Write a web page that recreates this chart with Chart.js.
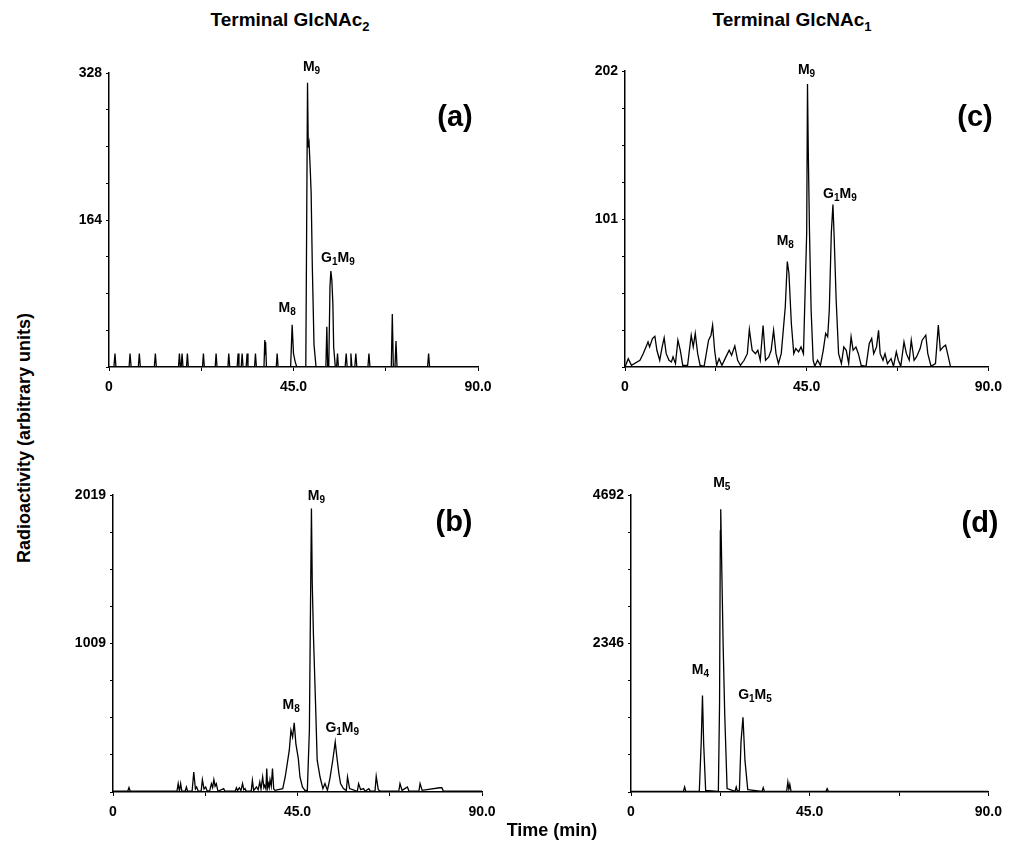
<!DOCTYPE html>
<html>
<head>
<script src="https://cdn.jsdelivr.net/npm/chart.js@4.4.1/dist/chart.umd.min.js"></script>
<style>
    body { margin: 0; background: #fff; font-family: "Liberation Sans", Arial, sans-serif; }
    #page { position: relative; width: 1010px; height: 842px; overflow: hidden; }
    canvas { position: absolute; }
    .txt { position: absolute; font-weight: bold; color: #000; white-space: nowrap; }
    .title { font-size: 19px; transform: translate(-50%, -50%); }
    .title sub { font-size: 13px; vertical-align: -5px; }
    .letter { font-size: 29px; transform: translate(-50%, -50%); }
    .ylab { font-size: 18px; transform: translate(-50%, -50%) rotate(-90deg); }
    .xlab { font-size: 18px; transform: translate(-50%, -50%); }
</style>
</head>
<body>
<div id="page">
    <canvas id="chartA" width="480" height="370" style="left:40px; top:40px;"></canvas>
    <canvas id="chartC" width="455" height="370" style="left:555px; top:40px;"></canvas>
    <canvas id="chartB" width="480" height="370" style="left:40px; top:455px;"></canvas>
    <canvas id="chartD" width="455" height="370" style="left:555px; top:455px;"></canvas>

    <div class="txt title" style="left:290px; top:21px;">Terminal GlcNAc<sub>2</sub></div>
    <div class="txt title" style="left:792px; top:21px;">Terminal GlcNAc<sub>1</sub></div>
    <div class="txt letter" style="left:455px; top:116px;">(a)</div>
    <div class="txt letter" style="left:975px; top:116px;">(c)</div>
    <div class="txt letter" style="left:454px; top:521px;">(b)</div>
    <div class="txt letter" style="left:980px; top:522px;">(d)</div>
    <div class="txt ylab" style="left:24px; top:438px;">Radioactivity (arbitrary units)</div>
    <div class="txt xlab" style="left:552px; top:830px;">Time (min)</div>
</div>

<script>
    // x ticks shared by all panels (minutes)
    const xTicks = [0, 22.5, 45, 67.5, 90];
    const xTickLabels = ['0', '', '45.0', '', '90.0'];

    // (a) terminal GlcNAc2, [time, counts]
    const traceA = [
        [0, 0], [1.2, 0], [1.46, 15], [1.7, 0], [4.9, 0], [5.13, 15], [5.4, 0], [7.15, 0], [7.4, 15], [7.65, 0],
        [11.05, 0], [11.31, 15], [11.55, 0], [16.95, 0], [17.17, 15], [17.4, 0], [17.6, 0], [17.82, 15], [18.05, 0],
        [18.9, 0], [19.12, 15], [19.35, 0], [22.8, 0], [23.03, 15], [23.25, 0], [25.9, 0], [26.12, 15], [26.35, 0],
        [29.0, 0], [29.21, 15], [29.45, 0], [31.25, 0], [31.49, 15], [31.7, 0], [32.25, 0], [32.47, 15], [32.7, 0],
        [33.45, 0], [33.69, 15], [33.9, 0], [35.5, 0], [35.72, 15], [35.95, 0], [37.8, 0], [38.0, 30], [38.1, 14],
        [38.2, 28], [38.4, 0], [40.8, 0], [41.01, 15], [41.25, 0], [44.3, 0], [44.67, 47], [45.0, 15], [45.4, 6],
        [45.8, 0], [48.0, 0], [48.2, 150], [48.42, 317], [48.6, 245], [48.8, 250], [49.07, 222], [49.3, 195],
        [49.6, 110], [50.0, 25], [50.5, 0], [52.9, 0], [53.13, 45], [53.35, 0], [53.6, 0], [53.9, 90], [54.11, 107],
        [54.35, 97], [54.6, 71], [54.8, 22], [55.2, 0], [55.5, 0], [55.74, 15], [55.95, 0], [57.6, 0], [57.85, 15],
        [58.1, 0], [58.8, 0], [59.0, 15], [59.25, 0], [59.95, 0], [60.2, 15], [60.45, 0], [63.15, 0], [63.4, 15],
        [63.65, 0], [68.85, 0], [69.1, 59], [69.35, 0], [69.75, 0], [70.0, 29], [70.25, 0], [77.7, 0], [77.95, 15],
        [78.2, 0], [90, 0]
    ];
    const yMaxA = 328;
    const yTickLabelsA = ['164', '328'];
    const peakNamesA = ['M_9', 'M_8', 'G_1M_9'];
    const peakTimesA = [48.42, 44.67, 54.11];
    const peakHeightsA = [317, 47, 107];

    // (b) terminal GlcNAc2
    const traceB = [
        [0, 5], [3.6, 5], [3.9, 30], [4.2, 5], [15.6, 5], [15.9, 57], [16.2, 5], [16.5, 57], [16.8, 5], [17.6, 5],
        [17.9, 34], [18.2, 5], [19.3, 8], [19.7, 136], [20.1, 20], [20.4, 34], [20.8, 5], [21.5, 5], [21.8, 84],
        [22.2, 20], [22.6, 34], [23.0, 5], [23.6, 10], [24.0, 57], [24.3, 30], [24.6, 84], [24.9, 40], [25.2, 57],
        [25.6, 5], [27.0, 23], [27.3, 5], [29.8, 5], [30.1, 29], [30.4, 10], [30.8, 29], [31.2, 10], [31.6, 57],
        [31.9, 15], [32.2, 23], [32.5, 5], [33.7, 5], [34.0, 79], [34.3, 10], [35.0, 34], [35.4, 15], [35.8, 68],
        [36.1, 20], [36.5, 102], [36.8, 30], [37.0, 45], [37.3, 20], [37.5, 159], [37.7, 30], [37.9, 57], [38.1, 30],
        [38.3, 84], [38.6, 40], [38.9, 159], [39.2, 20], [39.5, 11], [41.4, 23], [42.0, 102], [42.5, 193], [43.0, 284],
        [43.4, 420], [43.8, 374], [44.2, 470], [44.6, 329], [45.2, 227], [45.6, 102], [46.2, 34], [46.8, 11],
        [47.4, 11], [47.9, 420], [48.1, 1055], [48.4, 1928], [48.6, 1418], [48.9, 1055], [49.4, 601], [49.8, 216],
        [50.5, 102], [51.2, 23], [51.7, 57], [52.3, 11], [52.9, 91], [53.6, 216], [54.2, 340], [54.6, 238],
        [55.1, 125], [55.5, 57], [56.2, 23], [56.9, 10], [57.2, 102], [57.7, 23], [59.6, 5], [59.9, 57], [60.4, 16],
        [61.1, 23], [61.5, 5], [62.4, 23], [62.8, 5], [63.9, 5], [64.2, 107], [64.7, 16], [65.2, 5], [69.7, 5],
        [70.0, 57], [70.5, 11], [71.8, 34], [72.2, 5], [74.6, 5], [74.9, 57], [75.4, 11], [79.7, 29], [80.2, 29],
        [80.6, 5], [90, 5]
    ];
    const yMaxB = 2019;
    const yTickLabelsB = ['1009', '2019'];
    const peakNamesB = ['M_9', 'M_8', 'G_1M_9'];
    const peakTimesB = [48.4, 44.2, 54.2];
    const peakHeightsB = [1928, 470, 340];

    // (c) terminal GlcNAc1
    const traceC = [
        [0, 0], [0.8, 5.7], [1.6, 1.1], [3.7, 4.6], [4.5, 9.1], [5.2, 13.7], [5.7, 17.1], [6.1, 13.7], [6.8, 19.4],
        [7.4, 21.0], [7.9, 11.4], [8.6, 4.6], [9.2, 13.7], [9.7, 19.9], [10.2, 9.1], [10.9, 4.6], [11.5, 3.4],
        [11.9, 6.9], [12.5, 2.3], [13.1, 18.3], [13.7, 11.4], [14.3, 1.1], [15.5, 1.1], [16.4, 21.7], [16.9, 13.7],
        [17.4, 22.9], [18.0, 9.1], [18.6, 1.1], [19.6, 0.5], [20.7, 18.3], [21.3, 21.7], [21.7, 28.6], [22.2, 11.4],
        [22.7, 1.1], [23.3, 5.7], [24.0, 1.1], [25.0, 6.9], [25.8, 11.4], [26.4, 8.0], [27.2, 14.4], [27.9, 4.6],
        [28.6, 1.1], [29.5, 4.6], [30.3, 9.1], [30.8, 25.6], [31.5, 11.4], [32.3, 9.1], [32.9, 11.4], [33.5, 4.6],
        [34.2, 28.3], [34.8, 4.6], [35.6, 6.9], [36.2, 11.4], [36.8, 25.1], [37.4, 9.1], [38.0, 2.3], [38.7, 9.1],
        [39.7, 41.1], [40.2, 72.0], [40.6, 64.0], [41.2, 29.7], [41.8, 9.1], [42.3, 12.6], [43.0, 10.3], [43.6, 13.7],
        [44.2, 9.1], [44.6, 50.3], [45.0, 91.4], [45.2, 193.1], [45.4, 146.2], [45.7, 91.4], [46.1, 38.8], [46.6, 4.6],
        [47.0, 0.5], [47.7, 4.6], [48.4, 1.1], [49.1, 11.4], [49.7, 22.9], [50.2, 20.6], [50.6, 38.8], [51.1, 91.4],
        [51.5, 110.8], [51.8, 89.1], [52.3, 45.7], [52.9, 9.1], [53.6, 2.3], [54.2, 13.7], [54.8, 11.4], [55.4, 2.3],
        [56.0, 20.6], [56.5, 11.4], [57.2, 13.7], [57.8, 9.1], [58.5, 1.1], [59.7, 0.5], [60.5, 16.0], [61.1, 19.4],
        [61.6, 9.1], [62.3, 13.7], [62.8, 25.1], [63.2, 9.1], [63.9, 4.6], [64.4, 9.1], [65.0, 2.3], [65.9, 5.7],
        [66.5, 0.5], [67.2, 10.3], [67.7, 4.6], [68.3, 0.5], [69.1, 17.1], [69.7, 9.1], [70.4, 4.6], [70.9, 18.3],
        [71.6, 4.6], [72.2, 6.9], [73.1, 12.6], [73.6, 18.3], [74.5, 21.7], [75.0, 9.1], [75.8, 0.5], [76.9, 2.3],
        [77.6, 28.6], [78.1, 11.4], [78.8, 13.7], [79.4, 14.9], [79.9, 9.1], [80.6, 0.5], [81.5, 0], [90, 0]
    ];
    const yMaxC = 202;
    const yTickLabelsC = ['101', '202'];
    const peakNamesC = ['M_9', 'M_8', 'G_1M_9'];
    const peakTimesC = [45.2, 40.2, 51.5];
    const peakHeightsC = [193.1, 72.0, 110.8];

    // (d) terminal GlcNAc1
    const traceD = [
        [0, 10], [13.2, 10], [13.5, 79], [13.8, 10], [17.2, 10], [17.7, 814], [18.0, 1524], [18.3, 762], [18.8, 26],
        [22.0, 10], [22.3, 1392], [22.5, 4124], [22.6, 4466], [22.9, 3389], [23.2, 2338], [23.6, 1235], [24.2, 53],
        [26.2, 10], [26.5, 79], [26.8, 10], [27.3, 26], [27.7, 788], [28.2, 1182], [28.7, 499], [29.4, 37],
        [33.0, 10], [33.3, 68], [33.6, 10], [39.2, 10], [39.5, 158], [39.75, 42], [40.0, 121], [40.3, 10],
        [49.1, 10], [49.4, 53], [49.7, 10], [90, 10]
    ];
    const yMaxD = 4692;
    const yTickLabelsD = ['2346', '4692'];
    const peakNamesD = ['M_5', 'M_4', 'G_1M_5'];
    const peakTimesD = [22.6, 18.0, 28.2];
    const peakHeightsD = [4466, 1524, 1182];

    const FONT = '"Liberation Sans", Arial, sans-serif';

    // draws "M_9" style peak names above the peaks, with subscripts
    const peakLabelPlugin = {
        id: 'peakLabels',
        afterDatasetsDraw(chart, args, opts) {
            const ctx = chart.ctx;
            const xs = chart.scales.x, ys = chart.scales.y;
            ctx.save();
            ctx.fillStyle = '#000';
            ctx.textBaseline = 'middle';
            opts.names.forEach((name, i) => {
                const parts = [];
                for (let k = 0; k < name.length; k++) {
                    if (name[k] === '_') { parts.push({ s: name[k + 1], sub: true }); k++; }
                    else parts.push({ s: name[k], sub: false });
                }
                let w = 0;
                parts.forEach(p => {
                    ctx.font = p.sub ? 'bold 10px ' + FONT : 'bold 14px ' + FONT;
                    w += ctx.measureText(p.s).width;
                });
                const off = opts.offsets[i];
                let px = xs.getPixelForValue(opts.times[i]) + off[0] - w / 2;
                const py = ys.getPixelForValue(opts.heights[i]) + off[1];
                parts.forEach(p => {
                    ctx.font = p.sub ? 'bold 10px ' + FONT : 'bold 14px ' + FONT;
                    ctx.fillText(p.s, px, p.sub ? py + 4 : py);
                    px += ctx.measureText(p.s).width;
                });
            });
            ctx.restore();
        }
    };

    function makePanel(id, trace, yMax, yTickLabels, names, times, heights, offsets, pad) {
        const yTickValues = [yMax / 2, yMax];
        new Chart(document.getElementById(id), {
            type: 'line',
            data: {
                datasets: [{
                    data: trace.map(p => ({ x: p[0], y: p[1] })),
                    borderColor: '#000',
                    borderWidth: 1.3,
                    pointRadius: 0,
                    tension: 0,
                    fill: false
                }]
            },
            options: {
                responsive: false,
                animation: false,
                layout: { padding: { top: pad.top, right: pad.right, left: 0, bottom: 0 } },
                plugins: {
                    legend: { display: false },
                    tooltip: { enabled: false },
                    peakLabels: { names: names, times: times, heights: heights, offsets: offsets }
                },
                scales: {
                    x: {
                        type: 'linear',
                        min: 0,
                        max: 90,
                        afterBuildTicks: s => { s.ticks = xTicks.map(v => ({ value: v })); },
                        afterFit: s => { s.height = pad.xh; },
                        ticks: {
                            autoSkip: false,
                            maxRotation: 0,
                            padding: 8,
                            color: '#000',
                            font: { family: FONT, size: 14, weight: 'bold' },
                            callback: v => xTickLabels[xTicks.indexOf(v)]
                        },
                        grid: { drawOnChartArea: false, tickLength: 4, tickColor: '#000' },
                        border: { color: '#000', width: 1.5 }
                    },
                    y: {
                        min: 0,
                        max: yMax,
                        afterBuildTicks: s => { s.ticks = [0, 1, 2, 3, 4, 5, 6, 7, 8].map(k => ({ value: yMax * k / 8 })); },
                        afterFit: s => { s.width = pad.yw; },
                        ticks: {
                            autoSkip: false,
                            padding: 4,
                            color: '#000',
                            font: { family: FONT, size: 14, weight: 'bold' },
                            callback: v => {
                                const k = yTickValues.findIndex(t => Math.abs(t - v) < 1e-6);
                                return k >= 0 ? yTickLabels[k] : '';
                            }
                        },
                        grid: { drawOnChartArea: false, tickLength: 3, tickColor: '#000' },
                        border: { color: '#000', width: 1.5 }
                    }
                }
            },
            plugins: [peakLabelPlugin]
        });
    }

    // pixel offsets of the peak names from the peak tops
    makePanel('chartA', traceA, yMaxA, yTickLabelsA, peakNamesA, peakTimesA, peakHeightsA,
        [[4, -16], [-5, -17], [7, -13]], { top: 33, right: 42, yw: 69, xh: 43 });
    makePanel('chartC', traceC, yMaxC, yTickLabelsC, peakNamesC, peakTimesC, peakHeightsC,
        [[-1, -14], [-2, -20], [7, -10]], { top: 31, right: 18, yw: 70, xh: 43 });
    makePanel('chartB', traceB, yMaxB, yTickLabelsB, peakNamesB, peakTimesB, peakHeightsB,
        [[5, -12], [-3, -18], [7, -14]], { top: 40, right: 38, yw: 73, xh: 33 });
    makePanel('chartD', traceD, yMaxD, yTickLabelsD, peakNamesD, peakTimesD, peakHeightsD,
        [[1, -26], [-2, -25], [12, -22]], { top: 40, right: 16, yw: 76, xh: 33 });
</script>
</body>
</html>
